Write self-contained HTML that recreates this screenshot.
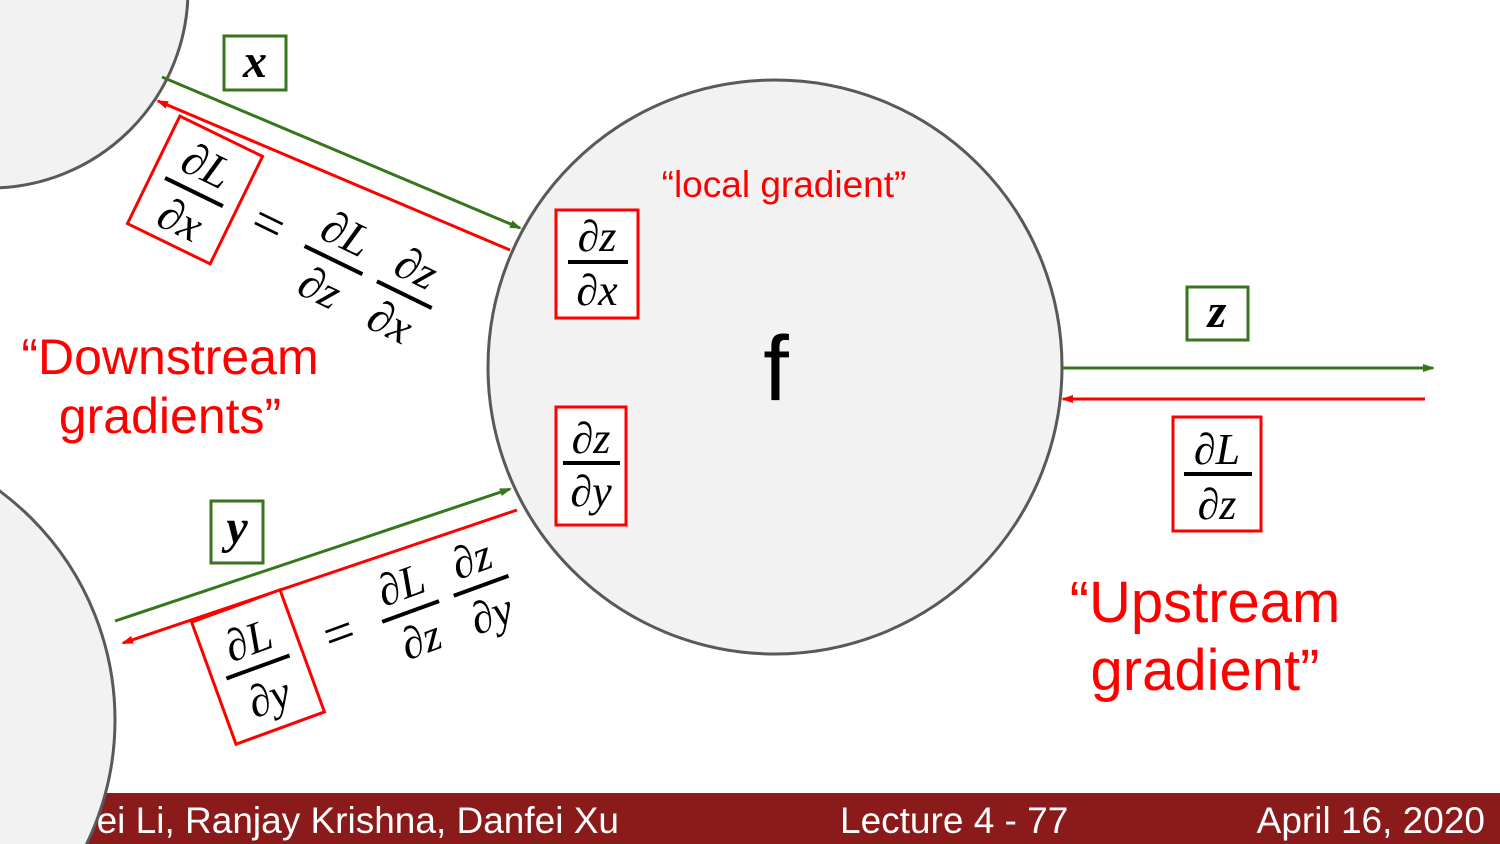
<!DOCTYPE html>
<html><head><meta charset="utf-8"><style>
html,body{margin:0;padding:0;background:#fff;width:1500px;height:844px;overflow:hidden;}
svg{display:block;}
.m{font-family:"Liberation Serif",serif;font-style:italic;}
.s{font-family:"Liberation Sans",sans-serif;}
</style></head><body>
<svg width="1500" height="844" viewBox="0 0 1500 844" xmlns="http://www.w3.org/2000/svg">
<defs>
<marker id="ag" markerWidth="12" markerHeight="8" refX="10" refY="4" orient="auto" markerUnits="userSpaceOnUse"><path d="M0,0 L12,4 L0,8 z" fill="#38761d"/></marker>
<marker id="ar" markerWidth="12" markerHeight="8" refX="10" refY="4" orient="auto" markerUnits="userSpaceOnUse"><path d="M0,0 L12,4 L0,8 z" fill="#f00"/></marker>
</defs>
<rect x="0" y="793" width="1500" height="51" fill="#8b1a1a"/>
<text class="s" x="74" y="833" font-size="37" fill="#fff">Fei Li, Ranjay Krishna, Danfei Xu</text>
<text class="s" x="840" y="833" font-size="37" fill="#fff">Lecture 4 - 77</text>
<text class="s" x="1485" y="833" font-size="37" fill="#fff" text-anchor="end">April 16, 2020</text>
<circle cx="-10" cy="-10" r="198" fill="#f2f2f2" stroke="#595959" stroke-width="3"/>
<circle cx="-170" cy="720" r="285" fill="#f2f2f2" stroke="#595959" stroke-width="3"/>
<circle cx="775" cy="367" r="287" fill="#f2f2f2" stroke="#595959" stroke-width="3"/>
<text class="s" x="776" y="400" font-size="92" fill="#000" text-anchor="middle">f</text>
<text class="s" x="784" y="197" font-size="37" fill="#f00" text-anchor="middle">“local gradient”</text>
<line x1="162" y1="77" x2="520" y2="228" stroke="#38761d" stroke-width="3" marker-end="url(#ag)"/>
<line x1="510" y1="250" x2="158" y2="101" stroke="#f00" stroke-width="3" marker-end="url(#ar)"/>
<line x1="1062" y1="368" x2="1433" y2="368" stroke="#38761d" stroke-width="3" marker-end="url(#ag)"/>
<line x1="1425" y1="399" x2="1063" y2="399" stroke="#f00" stroke-width="3" marker-end="url(#ar)"/>
<line x1="115" y1="621" x2="510" y2="489" stroke="#38761d" stroke-width="3" marker-end="url(#ag)"/>
<line x1="517" y1="510" x2="123" y2="643" stroke="#f00" stroke-width="3" marker-end="url(#ar)"/>
<g><rect x="224" y="36" width="62" height="54" fill="#fff" stroke="#38761d" stroke-width="3"/><text class="m" x="255" y="77" font-size="48" font-weight="bold" text-anchor="middle">x</text></g>
<g><rect x="1187" y="287" width="61" height="53" fill="#fff" stroke="#38761d" stroke-width="3"/><text class="m" x="1217" y="327" font-size="48" font-weight="bold" text-anchor="middle">z</text></g>
<g><rect x="211" y="501" width="52" height="62" fill="#fff" stroke="#38761d" stroke-width="3"/><text class="m" x="237" y="543" font-size="48" font-weight="bold" text-anchor="middle">y</text></g>
<g><rect x="556" y="210" width="82" height="108" fill="#fff" stroke="#f00" stroke-width="3"/><text class="m" x="597" y="251" font-size="44" text-anchor="middle">∂z</text><line x1="568" y1="262" x2="628" y2="262" stroke="#000" stroke-width="4"/><text class="m" x="597" y="305" font-size="44" text-anchor="middle">∂x</text></g>
<g><rect x="556" y="407" width="70" height="118" fill="#fff" stroke="#f00" stroke-width="3"/><text class="m" x="591" y="453" font-size="44" text-anchor="middle">∂z</text><line x1="563" y1="463" x2="620" y2="463" stroke="#000" stroke-width="4"/><text class="m" x="591" y="506" font-size="44" text-anchor="middle">∂y</text></g>
<g><rect x="1173" y="417" width="88" height="114" fill="#fff" stroke="#f00" stroke-width="3"/><text class="m" x="1217" y="464" font-size="44" text-anchor="middle">∂L</text><line x1="1184" y1="474" x2="1252" y2="474" stroke="#000" stroke-width="4"/><text class="m" x="1217" y="519" font-size="44" text-anchor="middle">∂z</text></g>
<g transform="translate(195,190) rotate(26) scale(1.15)">
<rect x="-40" y="-52" width="80" height="104" fill="#fff" stroke="#f00" stroke-width="2.6"/>
<text class="m" x="0" y="-10" font-size="40" text-anchor="middle">∂L</text><line x1="-28" y1="2" x2="28" y2="2" stroke="#000" stroke-width="3.5"/><text class="m" x="0" y="42" font-size="40" text-anchor="middle">∂x</text>
<text class="m" x="70" y="14" font-size="48" text-anchor="middle" font-style="normal">=</text>
<text class="m" x="135" y="-10" font-size="40" text-anchor="middle">∂L</text><line x1="107" y1="2" x2="163" y2="2" stroke="#000" stroke-width="3.5"/><text class="m" x="135" y="42" font-size="40" text-anchor="middle">∂z</text>
<text class="m" x="203" y="-10" font-size="40" text-anchor="middle">∂z</text><line x1="177" y1="2" x2="230" y2="2" stroke="#000" stroke-width="3.5"/><text class="m" x="203" y="42" font-size="40" text-anchor="middle">∂x</text>
</g>
<g transform="translate(258,667) rotate(-20) scale(1.12)">
<rect x="-42" y="-58" width="84" height="116" fill="#fff" stroke="#f00" stroke-width="2.7"/>
<text class="m" x="0" y="-12" font-size="40" text-anchor="middle">∂L</text><line x1="-30" y1="0" x2="30" y2="0" stroke="#000" stroke-width="3.5"/><text class="m" x="0" y="42" font-size="40" text-anchor="middle">∂y</text>
<text class="m" x="78" y="12" font-size="48" text-anchor="middle" font-style="normal">=</text>
<text class="m" x="145" y="-12" font-size="40" text-anchor="middle">∂L</text><line x1="118" y1="0" x2="172" y2="0" stroke="#000" stroke-width="3.5"/><text class="m" x="145" y="40" font-size="40" text-anchor="middle">∂z</text>
<text class="m" x="212" y="-12" font-size="40" text-anchor="middle">∂z</text><line x1="186" y1="0" x2="238" y2="0" stroke="#000" stroke-width="3.5"/><text class="m" x="212" y="40" font-size="40" text-anchor="middle">∂y</text>
</g>
<text class="s" font-size="50" fill="#f00" text-anchor="middle"><tspan x="170" y="374">“Downstream</tspan><tspan x="170" y="433">gradients”</tspan></text>
<text class="s" font-size="58" fill="#f00" text-anchor="middle"><tspan x="1205" y="622">“Upstream</tspan><tspan x="1205" y="690">gradient”</tspan></text>
</svg>
</body></html>
